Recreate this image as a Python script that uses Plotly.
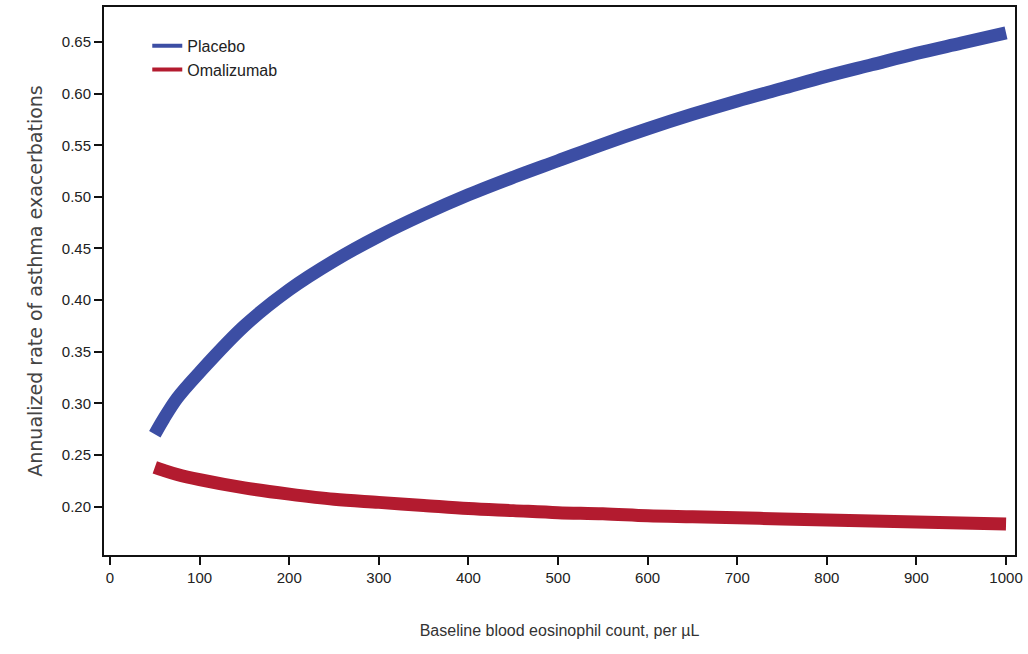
import plotly.graph_objects as go

eos = [50, 60, 75, 100, 150, 200, 250, 300, 350, 400, 450, 500, 550, 600, 650, 700, 750, 800, 850, 900, 950, 1000]
placebo = [0.270, 0.285, 0.305, 0.330, 0.375, 0.410, 0.438, 0.462, 0.483, 0.502, 0.519, 0.535,
           0.551, 0.566, 0.580, 0.593, 0.605, 0.617, 0.628, 0.639, 0.649, 0.659]
omalizumab = [0.238, 0.235, 0.231, 0.226, 0.218, 0.212, 0.207, 0.204, 0.201, 0.198, 0.196, 0.194,
              0.193, 0.191, 0.190, 0.189, 0.188, 0.187, 0.186, 0.185, 0.184, 0.183]

x_ticks = [0, 100, 200, 300, 400, 500, 600, 700, 800, 900, 1000]
y_ticks = [0.20, 0.25, 0.30, 0.35, 0.40, 0.45, 0.50, 0.55, 0.60, 0.65]

BLUE = "#3c4ea4"
RED = "#b31b2f"
FONT = "Liberation Sans, Arial"

fig = go.Figure()
fig.add_trace(go.Scatter(x=eos, y=placebo, mode="lines", line=dict(color=BLUE, width=13, shape="spline"),
                         showlegend=False))
fig.add_trace(go.Scatter(x=eos, y=omalizumab, mode="lines", line=dict(color=RED, width=13, shape="spline"),
                         showlegend=False))
fig.add_trace(go.Scatter(x=[None], y=[None], mode="lines", line=dict(color=BLUE, width=4), name="Placebo"))
fig.add_trace(go.Scatter(x=[None], y=[None], mode="lines", line=dict(color=RED, width=4), name="Omalizumab"))

fig.update_layout(
    width=1028, height=654,
    margin=dict(l=104, r=11, t=5, b=99),
    paper_bgcolor="white", plot_bgcolor="white",
    font=dict(family=FONT, size=15, color="#222"),
    legend=dict(x=0.0475, y=0.96, xanchor="left", yanchor="top", bgcolor="rgba(0,0,0,0)",
                font=dict(family=FONT, size=16, color="#222"), tracegroupgap=0, itemwidth=30),
    xaxis=dict(range=[-6.7, 1010], tickvals=x_ticks, ticks="outside", ticklen=8, tickwidth=2,
               tickcolor="#111", showgrid=False, zeroline=False, showline=True, linecolor="#111",
               linewidth=2, mirror=True, tickfont=dict(size=15),
               title=dict(text="Baseline blood eosinophil count, per µL", standoff=40,
                          font=dict(family=FONT, size=16, color="#333"))),
    yaxis=dict(range=[0.153, 0.684], tickvals=y_ticks, tickformat=".2f", ticks="outside", ticklen=8,
               tickwidth=2, tickcolor="#111", showgrid=False, zeroline=False, showline=True,
               linecolor="#111", linewidth=2, mirror=True, tickfont=dict(size=15),
               title=dict(text="Annualized rate of asthma exacerbations", standoff=14,
                          font=dict(family="DejaVu Sans", size=19, color="#444"))),
)

fig.write_html("out.html")
